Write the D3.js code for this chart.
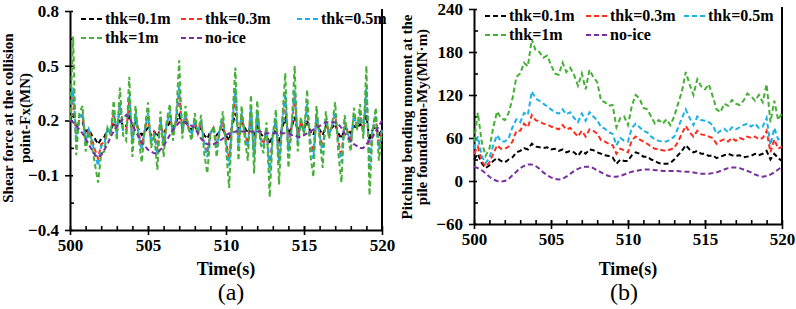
<!DOCTYPE html>
<html>
<head>
<meta charset="utf-8">
<script src="https://cdn.jsdelivr.net/npm/d3@7"></script>
<style>
  body { margin: 0; background: #fff; }
  svg { display: block; }
  text { font-family: "Liberation Serif", "Times New Roman", serif; }
</style>
</head>
<body>
<svg width="796" height="309"></svg>
<script>
// series names + colours (legend order = draw order)
const seriesNames = ["thk=0.1m", "thk=0.3m", "thk=0.5m", "thk=1m", "no-ice"];
const seriesColors = ["#000000", "#ff2d1e", "#1cb0e8", "#45b035", "#7a2fa0"];

// time axis
const timeStart = 500, timeEnd = 520;
const xTicks = [500, 505, 510, 515, 520];

// (a) shear force Fx (MN), sampled every 0.2 s
const fxStep = 0.2;
const fxTicks = [-0.4, -0.1, 0.2, 0.5, 0.8];
const fx01 = [0.20,0.24,0.16,0.19,0.19,0.14,0.15,0.12,0.10,0.07,
  0.10,0.11,0.15,0.14,0.19,0.16,0.21,0.17,0.17,0.22,
  0.16,0.19,0.15,0.12,0.14,0.16,0.12,0.14,0.11,0.16,
  0.13,0.16,0.19,0.16,0.19,0.23,0.17,0.19,0.17,0.15,
  0.17,0.14,0.16,0.12,0.10,0.14,0.15,0.12,0.14,0.15,
  0.12,0.09,0.17,0.24,0.15,0.19,0.16,0.13,0.18,0.11,
  0.17,0.13,0.11,0.13,0.07,0.12,0.15,0.09,0.16,0.21,
  0.13,0.16,0.22,0.14,0.18,0.15,0.20,0.14,0.12,0.18,
  0.15,0.12,0.17,0.15,0.16,0.18,0.13,0.10,0.16,0.15,
  0.13,0.17,0.16,0.18,0.16,0.23,0.09,0.15,0.17,0.12,
  0.15];
const fx03 = [0.20,0.33,0.10,0.21,0.23,0.10,0.15,0.10,0.04,-0.01,
  0.07,0.08,0.15,0.13,0.24,0.13,0.28,0.15,0.14,0.31,
  0.10,0.23,0.13,0.06,0.15,0.22,0.09,0.13,0.04,0.20,
  0.08,0.18,0.23,0.13,0.20,0.35,0.14,0.23,0.16,0.13,
  0.20,0.13,0.19,0.08,0.02,0.13,0.16,0.07,0.14,0.19,
  0.09,-0.01,0.18,0.34,0.08,0.23,0.14,0.07,0.24,0.03,
  0.23,0.11,0.07,0.15,-0.05,0.12,0.19,-0.01,0.18,0.31,
  0.05,0.16,0.33,0.10,0.20,0.14,0.27,0.09,0.03,0.22,
  0.13,0.05,0.20,0.13,0.17,0.23,0.09,0.00,0.19,0.14,
  0.09,0.21,0.16,0.22,0.14,0.34,-0.03,0.15,0.21,0.06,
  0.15];
const fx05 = [0.20,0.38,0.08,0.22,0.24,0.08,0.15,0.09,0.02,-0.05,
  0.06,0.07,0.16,0.13,0.26,0.12,0.30,0.14,0.13,0.34,
  0.07,0.24,0.12,0.04,0.15,0.24,0.08,0.13,0.01,0.21,
  0.06,0.18,0.25,0.12,0.21,0.39,0.13,0.24,0.16,0.12,
  0.21,0.13,0.20,0.07,0.00,0.13,0.16,0.05,0.15,0.21,
  0.08,-0.05,0.19,0.38,0.06,0.24,0.13,0.05,0.27,0.00,
  0.25,0.10,0.06,0.16,-0.09,0.12,0.21,-0.04,0.18,0.35,
  0.03,0.16,0.37,0.08,0.20,0.13,0.29,0.07,-0.01,0.24,
  0.12,0.02,0.21,0.12,0.17,0.25,0.07,-0.03,0.20,0.13,
  0.08,0.23,0.16,0.24,0.13,0.38,-0.07,0.15,0.23,0.04,
  0.15];
const fx1 = [0.20,0.66,0.01,0.24,0.28,0.03,0.14,0.06,-0.04,-0.14,
  0.02,0.03,0.16,0.12,0.31,0.09,0.38,0.12,0.09,0.44,
  0.00,0.28,0.10,-0.03,0.16,0.30,0.05,0.12,-0.07,0.25,
  0.00,0.20,0.29,0.09,0.22,0.53,0.10,0.28,0.15,0.09,
  0.24,0.12,0.23,0.02,-0.09,0.12,0.17,0.00,0.15,0.25,
  0.05,-0.17,0.20,0.49,-0.02,0.28,0.10,-0.02,0.34,-0.09,
  0.31,0.08,0.02,0.19,-0.22,0.12,0.26,-0.15,0.20,0.46,
  -0.06,0.15,0.50,0.03,0.22,0.12,0.37,0.02,-0.11,0.28,
  0.10,-0.06,0.25,0.10,0.18,0.30,0.02,-0.14,0.23,0.12,
  0.03,0.27,0.15,0.29,0.10,0.50,-0.21,0.14,0.27,-0.02,
  0.14];
const fxNoIce = [0.20,0.19,0.17,0.15,0.13,0.10,0.07,0.04,0.01,0.00,
  0.01,0.04,0.07,0.11,0.14,0.17,0.19,0.21,0.23,0.22,
  0.18,0.14,0.11,0.08,0.06,0.04,0.03,0.02,0.02,0.04,
  0.06,0.09,0.12,0.15,0.17,0.19,0.19,0.19,0.18,0.17,
  0.16,0.13,0.10,0.08,0.07,0.07,0.07,0.08,0.09,0.10,
  0.12,0.13,0.13,0.14,0.14,0.14,0.14,0.14,0.14,0.14,
  0.14,0.14,0.13,0.13,0.13,0.13,0.13,0.13,0.13,0.13,
  0.13,0.12,0.12,0.11,0.11,0.12,0.13,0.14,0.15,0.16,
  0.17,0.18,0.19,0.19,0.19,0.19,0.18,0.16,0.13,0.11,
  0.09,0.07,0.06,0.05,0.05,0.07,0.09,0.11,0.14,0.17,
  0.20];

// (b) pitching bending moment My (MN·m), sampled every 0.25 s
const myStep = 0.25;
const myTicks = [-60, 0, 60, 120, 180, 240];
const my01 = [30,38,25,18,22,28,32,28,26,30,
  33,40,42,46,44,52,48,47,46,47,
  44,45,42,44,40,42,40,35,42,38,
  44,43,40,38,36,35,33,24,30,28,
  28,36,40,38,34,34,30,28,25,24,
  24,25,30,36,42,50,44,40,42,38,
  38,35,36,32,34,36,38,36,35,36,
  33,34,35,38,36,38,42,30,38,32,
  28];
const my03 = [38,48,28,20,26,38,50,45,45,48,
  55,70,70,80,75,92,85,83,80,79,
  76,74,72,78,72,74,68,62,70,62,
  72,70,66,57,55,52,50,38,45,43,
  40,57,62,58,55,52,48,45,44,43,
  42,44,46,55,66,77,68,62,70,65,
  64,62,60,52,56,58,55,60,56,60,
  58,62,60,62,58,60,70,40,58,45,
  48];
const my05 = [45,62,35,25,32,50,64,55,55,60,
  75,86,82,95,92,125,115,112,108,104,
  100,96,94,100,93,96,88,82,94,84,
  96,90,85,75,73,68,66,50,60,56,
  55,74,80,75,70,68,62,58,56,55,
  55,58,62,74,88,100,88,78,90,85,
  84,82,78,66,70,73,68,75,72,75,
  78,80,76,80,74,76,88,50,74,58,
  62];
const my1 = [55,95,55,35,45,75,97,88,85,95,
  115,145,150,165,160,198,182,180,172,175,
  162,150,148,165,152,158,148,133,150,128,
  155,145,138,112,110,105,106,75,88,90,
  78,105,120,115,102,100,90,80,85,80,
  86,78,90,108,125,152,135,120,142,132,
  128,135,118,100,96,108,105,113,108,106,
  112,122,118,112,120,110,135,82,112,85,
  95];
const myNoIce = [20,18,15,11,6,2,0,-1,0,3,
  8,13,18,21,23,23,21,17,12,8,
  5,3,2,3,6,10,14,17,19,20,
  20,18,15,12,9,7,6,6,7,9,
  11,13,14,15,16,16,16,15,15,14,
  14,14,14,14,13,13,13,12,11,10,
  10,10,11,12,14,16,18,19,19,18,
  16,14,12,9,7,6,7,9,12,16,
  20];

const svg = d3.select("svg");

function drawPanel(p) {
  const g = svg.append("g");
  const x = d3.scaleLinear().domain([timeStart, timeEnd]).range([p.left, p.right]);
  const y = d3.scaleLinear().domain([p.yTicks[0], p.yTicks[p.yTicks.length - 1]]).range([p.bottom, p.top]);

  // minor ticks (inside only)
  const yMinor = d3.range(p.yTicks[0] + p.yMinorStep, p.yTicks[p.yTicks.length - 1], p.yMinorStep * 2);
  g.append("g")
    .attr("transform", `translate(0,${p.bottom})`)
    .call(d3.axisBottom(x).tickValues(d3.range(timeStart + 1, timeEnd, 1)).tickSize(-4).tickSizeOuter(0).tickFormat(""))
    .call(a => a.select(".domain").remove());
  g.append("g")
    .attr("transform", `translate(${p.left},0)`)
    .call(d3.axisLeft(y).tickValues(yMinor).tickSize(-4).tickSizeOuter(0).tickFormat(""))
    .call(a => a.select(".domain").remove());

  // major axes
  const xAxis = g.append("g")
    .attr("transform", `translate(0,${p.bottom})`)
    .call(d3.axisBottom(x).tickValues(xTicks).tickSizeOuter(0).tickFormat(d3.format("d")));
  xAxis.selectAll(".tick line").attr("y1", -4).attr("y2", 5);
  xAxis.selectAll(".tick text").attr("y", 9).attr("dy", "0.71em");

  const yAxis = g.append("g")
    .attr("transform", `translate(${p.left},0)`)
    .call(d3.axisLeft(y).tickValues(p.yTicks).tickSizeOuter(0).tickFormat(p.yFormat));
  yAxis.selectAll(".tick line").attr("x1", -5).attr("x2", 3);
  yAxis.selectAll(".tick text").attr("x", -11);

  g.selectAll(".domain").attr("stroke", "#000").attr("stroke-width", 2);
  g.selectAll(".tick line").attr("stroke", "#000").attr("stroke-width", 1.6);
  g.selectAll(".tick text")
    .attr("fill", "#000")
    .style("font-size", "17px")
    .style("font-weight", "bold")
    .style("font-family", "'Liberation Serif', serif");

  // right frame line
  g.append("line")
    .attr("x1", p.right).attr("x2", p.right)
    .attr("y1", p.top - 2).attr("y2", p.bottom)
    .attr("stroke", "#000").attr("stroke-width", 2);

  // series
  p.series.forEach((vals, si) => {
    const line = d3.line()
      .x((d, i) => x(timeStart + i * p.step))
      .y(d => y(d));
    g.append("path")
      .datum(vals)
      .attr("d", line)
      .attr("fill", "none")
      .attr("stroke", seriesColors[si])
      .attr("stroke-width", 2)
      .attr("stroke-dasharray", "5,3");
  });

  // legend
  p.legend.forEach((pos, si) => {
    g.append("line")
      .attr("x1", pos[0]).attr("x2", pos[0] + 21)
      .attr("y1", pos[1]).attr("y2", pos[1])
      .attr("stroke", seriesColors[si])
      .attr("stroke-width", 2)
      .attr("stroke-dasharray", "5,3");
    g.append("text")
      .attr("x", pos[0] + 24).attr("y", pos[1] + 5)
      .style("font-size", "16px").style("font-weight", "bold")
      .text(seriesNames[si]);
  });

  // x title
  g.append("text")
    .attr("x", (p.left + p.right) / 2).attr("y", 275)
    .attr("text-anchor", "middle")
    .style("font-size", "18px").style("font-weight", "bold")
    .text("Time(s)");

  // y title (2 lines)
  p.yTitle.forEach((t, i) => {
    g.append("text")
      .attr("transform", `translate(${p.yTitleX[i]},${p.yTitleY}) rotate(-90)`)
      .attr("text-anchor", "middle")
      .attr("dy", "0.35em")
      .style("font-size", "15px").style("font-weight", "bold")
      .text(t);
  });

  // panel label
  g.append("text")
    .attr("x", p.labelX).attr("y", 300)
    .attr("text-anchor", "middle")
    .style("font-size", "24px")
    .text(p.label);
}

drawPanel({
  left: 70, right: 382, top: 11, bottom: 230,
  yTicks: fxTicks, yMinorStep: 0.15, yFormat: d3.format(".1f"),
  step: fxStep,
  series: [fx01, fx03, fx05, fx1, fxNoIce],
  legend: [[81, 19], [181, 19], [297, 19], [81, 38], [181, 38]],
  yTitle: ["Shear force at the collision", "point-Fx(MN)"],
  yTitleX: [8, 25], yTitleY: 118,
  label: "(a)", labelX: 231
});

drawPanel({
  left: 474, right: 782, top: 9, bottom: 224,
  yTicks: myTicks, yMinorStep: 30, yFormat: d3.format("d"),
  step: myStep,
  series: [my01, my03, my05, my1, myNoIce],
  legend: [[485, 16], [586, 16], [684, 16], [485, 35], [586, 35]],
  yTitle: ["Pitching bending moment at the", "pile foundation-My(MN·m)"],
  yTitleX: [407, 422], yTitleY: 117,
  label: "(b)", labelX: 624
});
</script>
</body>
</html>
